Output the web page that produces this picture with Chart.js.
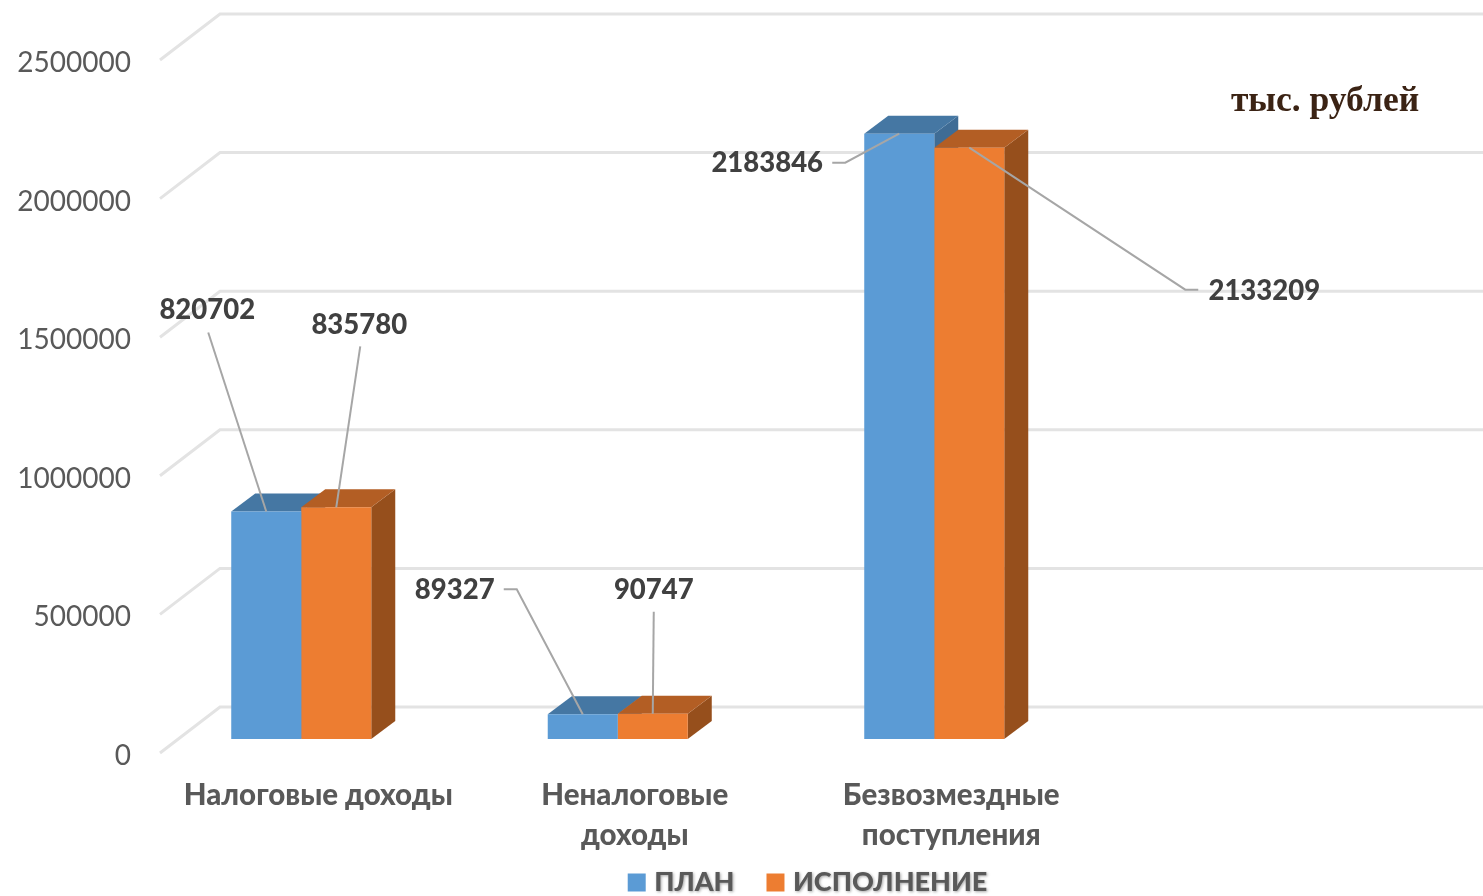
<!DOCTYPE html>
<html>
<head>
<meta charset="utf-8">
<style>html,body{margin:0;padding:0;background:#fff;overflow:hidden}canvas{display:block}</style>
<script src="https://cdn.jsdelivr.net/npm/chart.js@4"></script>
</head>
<body>
<canvas id="myChart" width="1483" height="896"></canvas>
<script>
const categories = ['Налоговые доходы', ['Неналоговые', 'доходы'], ['Безвозмездные', 'поступления'], ''];
const planValues = [820702, 89327, 2183846, null];
const factValues = [835780, 90747, 2133209, null];
const seriesNames = ['ПЛАН', 'ИСПОЛНЕНИЕ'];
const unitLabel = 'тыс. рублей';

const FONT = 'Lato, "Open Sans", sans-serif';

// 3d look of the excel chart
const wallDx = 60, wallDy = 46;
const barShiftX = -17, barShiftY = -14;
const depthX = 24, depthY = 18;
const faceColors = [
    { front: '#5b9bd5', top: '#4577a3', side: '#3f6c95' },
    { front: '#ed7d31', top: '#b35e24', side: '#964f1c' }
];

// leader line: label centre and elbow, relative to the top middle of the bar
const callouts = [
    [{ label: [-59, -201], line: [[-58, -179]] }, { label: [23, -182], line: [[24, -161]] }],
    [{ label: [-128, -124], line: [[-79, -125], [-66, -125]] }, { label: [1, -124], line: [[1, -102]] }],
    [{ label: [-132, 29], line: [[-67, 29], [-54, 29]] }, { label: [295, 143], line: [[229, 142], [216, 142]] }]
];

const excel3d = {
    id: 'excel3d',
    beforeDatasetsDraw(chart) {
        const { ctx, scales: { y }, chartArea, width } = chart;
        ctx.save();
        ctx.strokeStyle = '#e3e3e3';
        ctx.lineWidth = 3;
        y.ticks.forEach(t => {
            const py = y.getPixelForValue(t.value);
            ctx.beginPath();
            ctx.moveTo(chartArea.left, py);
            ctx.lineTo(chartArea.left + wallDx, py - wallDy);
            ctx.lineTo(width, py - wallDy);
            ctx.stroke();
        });
        ctx.restore();

        // tops and sides first, front faces come from the bars themselves
        ctx.save();
        ctx.translate(barShiftX, barShiftY);
        chart.data.datasets.forEach((ds, d) => {
            chart.getDatasetMeta(d).data.forEach((bar, i) => {
                if (ds.data[i] == null) return;
                const l = bar.x - bar.width / 2, r = bar.x + bar.width / 2, t = bar.y, b = bar.base;
                ctx.fillStyle = faceColors[d].side;
                ctx.beginPath();
                ctx.moveTo(r, t);
                ctx.lineTo(r + depthX, t - depthY);
                ctx.lineTo(r + depthX, b - depthY);
                ctx.lineTo(r, b);
                ctx.closePath();
                ctx.fill();
                ctx.fillStyle = faceColors[d].top;
                ctx.beginPath();
                ctx.moveTo(l, t);
                ctx.lineTo(l + depthX, t - depthY);
                ctx.lineTo(r + depthX, t - depthY);
                ctx.lineTo(r, t);
                ctx.closePath();
                ctx.fill();
            });
        });
    },
    afterDatasetsDraw(chart) {
        const { ctx } = chart;
        ctx.restore();
        ctx.save();
        ctx.textAlign = 'center';
        ctx.textBaseline = 'middle';
        chart.data.datasets.forEach((ds, d) => {
            chart.getDatasetMeta(d).data.forEach((bar, i) => {
                if (ds.data[i] == null) return;
                const px = bar.x + barShiftX, py = bar.y + barShiftY;
                const c = callouts[i][d];
                ctx.strokeStyle = '#a6a6a6';
                ctx.lineWidth = 2;
                ctx.beginPath();
                c.line.forEach((p, k) => {
                    if (k === 0) ctx.moveTo(px + p[0], py + p[1]);
                    else ctx.lineTo(px + p[0], py + p[1]);
                });
                ctx.lineTo(px, py);
                ctx.stroke();
                ctx.fillStyle = '#404040';
                ctx.font = '900 27.5px ' + FONT;
                ctx.fillText(String(ds.data[i]), px + c.label[0], py + c.label[1]);
            });
        });
        ctx.fillStyle = '#3b2314';
        ctx.font = 'bold 35.5px "Liberation Serif", serif';
        ctx.fillText(unitLabel, 1325, 102);
        ctx.restore();
    },
    afterLayout(chart) {
        // legend sits off centre, under the bars
        const legend = chart.legend;
        legend.left += 97;
        legend.right += 97;
        legend.top = 832;
        // tick labels get clipped to the scale box otherwise
        chart.scales.x.bottom = chart.height;

        // lato sits a bit high against the tick
        const yScale = chart.scales.y;
        const drawLabels = yScale.drawLabels;
        yScale.drawLabels = function (area) {
            chart.ctx.save();
            chart.ctx.translate(0, 3);
            drawLabels.call(yScale, area);
            chart.ctx.restore();
        };

        // legend text has a soft shadow, the swatches do not
        const drawLegend = legend.draw;
        legend.draw = function () {
            const ctx = chart.ctx;
            const fillText = ctx.fillText;
            ctx.fillText = function (...args) {
                ctx.shadowColor = 'rgba(0,0,0,0.35)';
                ctx.shadowBlur = 3;
                ctx.shadowOffsetX = 1;
                ctx.shadowOffsetY = 1;
                fillText.apply(ctx, args);
                ctx.shadowColor = 'transparent';
            };
            drawLegend.call(legend);
            delete ctx.fillText;
        };
    }
};

new Chart(document.getElementById('myChart').getContext('2d'), {
    type: 'bar',
    data: {
        labels: categories,
        datasets: [
            { label: seriesNames[0], data: planValues, backgroundColor: faceColors[0].front, categoryPercentage: 0.4424, barPercentage: 1 },
            { label: seriesNames[1], data: factValues, backgroundColor: faceColors[1].front, categoryPercentage: 0.4424, barPercentage: 1 }
        ]
    },
    options: {
        responsive: false,
        animation: false,
        devicePixelRatio: 1,
        layout: { padding: { top: 60, left: 0, right: 57, bottom: 0 } },
        plugins: {
            tooltip: { enabled: false },
            legend: {
                position: 'bottom',
                labels: {
                    // small box with a fat border: gives the tight swatch to text gap
                    boxWidth: 8,
                    boxHeight: 8,
                    padding: 37,
                    color: '#595959',
                    font: { family: FONT, size: 27, weight: '900' },
                    generateLabels(chart) {
                        return Chart.defaults.plugins.legend.labels.generateLabels(chart).map(item => {
                            item.strokeStyle = item.fillStyle;
                            item.lineWidth = 10;
                            return item;
                        });
                    }
                }
            }
        },
        scales: {
            x: {
                afterFit(scale) { scale.height = 69; },
                grid: { display: false },
                border: { display: false },
                ticks: {
                    autoSkip: false,
                    maxRotation: 0,
                    padding: 15,
                    color: '#595959',
                    font: { family: FONT, size: 29.5, weight: '900', lineHeight: 1.34 }
                }
            },
            y: {
                min: 0,
                max: 2500000,
                afterFit(scale) { scale.width = 160; },
                grid: { display: false, drawTicks: false },
                border: { display: false },
                ticks: {
                    stepSize: 500000,
                    padding: 29,
                    color: '#595959',
                    font: { family: FONT, size: 28 },
                    callback: value => String(value)
                }
            }
        }
    },
    plugins: [excel3d]
});
</script>
</body>
</html>
